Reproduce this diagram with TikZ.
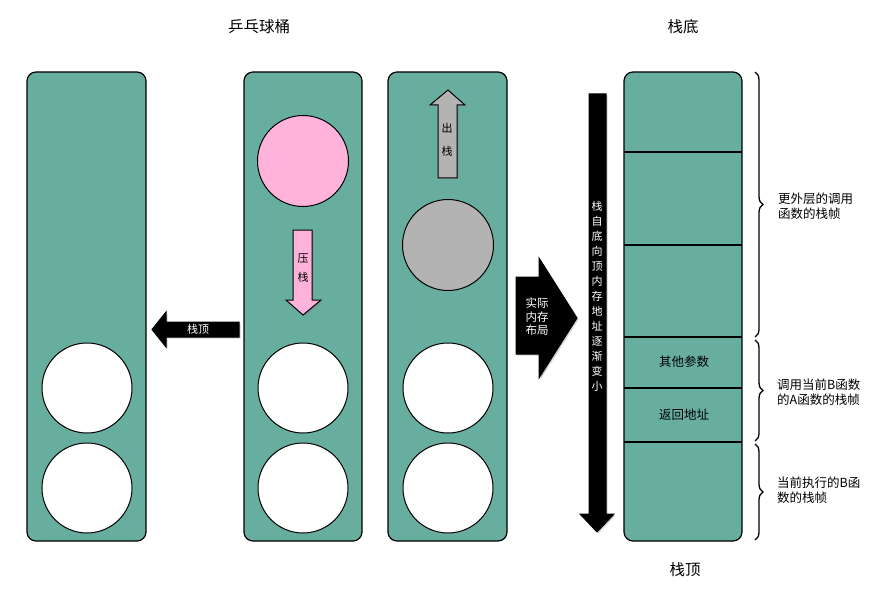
\documentclass[tikz,border=0pt]{standalone}
\usepackage{fontspec}
\setmainfont{Noto Sans CJK SC}
\usetikzlibrary{decorations.pathreplacing,shadows}

\definecolor{bucketgreen}{HTML}{67AE9F}
\definecolor{ballpink}{HTML}{FFB3DB}
\definecolor{ballgray}{HTML}{B3B3B3}

\begin{document}
\begin{tikzpicture}[x=1pt,y=-1pt,
  bucket/.style={draw=black,line width=1.2pt,fill=bucketgreen,rounded corners=9pt},
  ball/.style={draw=black,line width=1pt,fill=white},
  fatarrow/.style={draw=black,line width=1pt,line join=miter,
    drop shadow={shadow xshift=1.5pt,shadow yshift=-1.5pt,opacity=0.35}},
  fatlabel/.style={font=\fontsize{11}{13.5}\selectfont,align=center,inner sep=0pt},
  frame/.style={decorate,decoration={brace,amplitude=8pt},line width=1.3pt},
  note/.style={font=\fontsize{12.5}{15.5}\selectfont,align=left,anchor=west,inner sep=0pt},
  title/.style={font=\fontsize{15.5}{18}\selectfont}]
  \useasboundingbox (0,0) rectangle (876,591);

  % titles
  \node[title] (pingpong) at (259,27) {乒乓球桶};
  \node[title] (bottom) at (683,27) {栈底};
  \node[title] (top) at (685,570) {栈顶};

  % three buckets
  \draw[bucket] (27,72) rectangle (146,541);
  \draw[bucket] (244,72) rectangle (362,541);
  \draw[bucket] (388,72) rectangle (507,541);

  % balls
  \draw[ball] (87,388) circle [radius=45pt];
  \draw[ball] (87,488) circle [radius=45pt];
  \draw[ball,fill=ballpink] (303,161) circle [radius=45.5pt];
  \draw[ball] (303,388) circle [radius=45pt];
  \draw[ball] (303,488) circle [radius=45pt];
  \draw[ball,fill=ballgray] (448,245) circle [radius=45.5pt];
  \draw[ball] (448,388) circle [radius=45pt];
  \draw[ball] (448,488) circle [radius=45pt];

  % stack top arrow
  \draw[fatarrow,fill=black] (239,322) -- (166,322) -- (166,312) -- (152,329.5)
    -- (166,347) -- (166,337) -- (239,337) -- cycle;
  \node[fatlabel,white] (toplabel) at (198,329) {栈顶};

  % push arrow
  \draw[fatarrow,fill=ballpink] (293,230) -- (312,230) -- (312,300) -- (321,300)
    -- (303,315) -- (286,300) -- (293,300) -- cycle;
  \node[fatlabel] (push) at (303,268) {压\\[6pt]栈};

  % pop arrow
  \draw[fatarrow,fill=ballgray] (438,178) -- (457,178) -- (457,105) -- (465,105)
    -- (448,90) -- (430,105) -- (438,105) -- cycle;
  \node[fatlabel] (pop) at (447,140) {出\\[9pt]栈};

  % actual layout arrow
  \draw[fatarrow,fill=black] (516,277) -- (539,277) -- (539,258) -- (577,318)
    -- (539,378) -- (539,354) -- (516,354) -- cycle;
  \node[fatlabel,white,font=\fontsize{11.5}{13.5}\selectfont] (layout) at (537,317) {实际\\内存\\布局};

  % address arrow
  \draw[fatarrow,fill=black] (589,94) -- (606,94) -- (606,514) -- (614,514)
    -- (597,532) -- (580,514) -- (589,514) -- cycle;
  \node[fatlabel,white,font=\fontsize{11}{15}\selectfont] (address) at (597,296)
    {栈\\自\\底\\向\\顶\\内\\存\\地\\址\\逐\\渐\\变\\小};

  % memory layout
  \draw[bucket] (624,72) rectangle (742,541);
  \foreach \y in {152,245,337,388,442}
    \draw[line width=1.2pt] (624,\y) -- (742,\y);
  \node[fatlabel,font=\fontsize{12.5}{14}\selectfont] (args) at (684,362) {其他参数};
  \node[fatlabel,font=\fontsize{12.5}{14}\selectfont] (ret) at (684,415) {返回地址};

  % frames
  \coordinate (f1a) at (755,72);
  \coordinate (f1b) at (755,337);
  \coordinate (f2a) at (755,340);
  \coordinate (f2b) at (755,441);
  \coordinate (f3a) at (755,444);
  \coordinate (f3b) at (755,540);
  \draw[frame] (f1a) -- (f1b);
  \draw[frame] (f2a) -- (f2b);
  \draw[frame] (f3a) -- (f3b);
  \node[note] (outer) at (778,206) {更外层的调用\\函数的栈帧};
  \node[note] (caller) at (777,392) {调用当前B函数\\的A函数的栈帧};
  \node[note] (callee) at (777,490) {当前执行的B函\\数的栈帧};
\end{tikzpicture}
\end{document}
